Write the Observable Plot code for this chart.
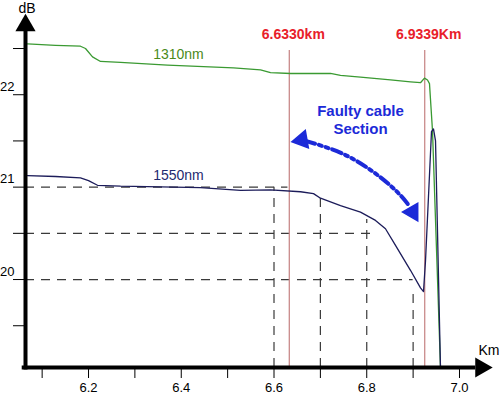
<!DOCTYPE html>
<html>
<head>
<meta charset="utf-8">
<script src="https://cdn.jsdelivr.net/npm/d3@7"></script>
<script src="https://cdn.jsdelivr.net/npm/@observablehq/plot@0.6"></script>
<style>
  html, body { margin: 0; padding: 0; background: #fff; }
  #chart svg { display: block; }
</style>
</head>
<body>
<div id="chart"></div>
<script>
// ---- data ----
const km1310 = [6.0685, 6.1288, 6.1827, 6.1935, 6.2086, 6.2259, 6.269, 6.3703, 6.5127, 6.5709, 6.5925, 6.6356, 6.7218, 6.7434, 6.7865, 6.8512, 6.8943, 6.9159, 6.9245, 6.931, 6.9353, 6.9418, 6.959];
const db1310 = [22.55, 22.535, 22.525, 22.50, 22.41, 22.36, 22.35, 22.32, 22.29, 22.27, 22.24, 22.23, 22.23, 22.21, 22.19, 22.16, 22.14, 22.13, 22.18, 22.16, 22.12, 21.61, 19.05];

const km1550 = [6.0685, 6.1288, 6.1827, 6.2, 6.2194, 6.269, 6.4415, 6.5278, 6.5925, 6.6572, 6.6852, 6.7003, 6.7434, 6.7865, 6.8189, 6.8404, 6.862, 6.8943, 6.9159, 6.9224, 6.9267, 6.9396, 6.9439, 6.9483, 6.959];
const db1550 = [21.125, 21.115, 21.10, 21.07, 21.02, 21.01, 20.995, 20.965, 20.97, 20.95, 20.93, 20.88, 20.80, 20.73, 20.64, 20.55, 20.37, 20.10, 19.91, 19.87, 20.2, 21.60, 21.63, 21.5, 19.05];

const seriesNames = ["1310nm", "1550nm"];
const seriesLabelKm = [6.394, 6.394];
const seriesLabelDb = [22.435, 21.125];

const markerKm = [6.633, 6.925];
const markerLabels = ["6.6330km", "6.9339Km"];

const guideDb = [21, 20.5, 20];          // horizontal dashed guides
const guideDbEndKm = [6.63, 6.81, 6.9];
const guideKm = [6.6, 6.7, 6.8, 6.9];    // vertical dashed guides
const guideKmTopDb = [21, 20.88, 20.65, 19.9];

const faultArrowKm = [6.668, 6.765, 6.851, 6.893];
const faultArrowDb = [21.5, 21.32, 21.017, 20.79];

const xMinorTicks = [6.1, 6.2, 6.3, 6.4, 6.5, 6.6, 6.7, 6.8, 6.9, 7.0];
const xTickLabels = [6.2, 6.4, 6.6, 6.8, 7.0];
const yMinorTicks = [19.5, 20, 20.5, 21, 21.5, 22, 22.5];
const yTickLabels = [20, 21, 22];

// ---- derived tables ----
const xMin = 6.0641, xMax = 7.0604, yMin = 19.048, yMax = 22.825;
const s1310 = km1310.map((k, i) => ({km: k, db: db1310[i]}));
const s1550 = km1550.map((k, i) => ({km: k, db: db1550[i]}));
const labels = seriesNames.map((n, i) => ({name: n, km: seriesLabelKm[i], db: seriesLabelDb[i]}));
const markers = markerKm.map((k, i) => ({km: k, label: markerLabels[i]}));
const hGuides = guideDb.map((d, i) => ({db: d, km2: guideDbEndKm[i]}));
const vGuides = guideKm.map((k, i) => ({km: k, db2: guideKmTopDb[i]}));
const faultArrow = faultArrowKm.map((k, i) => ({km: k, db: faultArrowDb[i]}));

const green = "#3a9a32", navy = "#1c1c5a", red = "#e8202a", blue = "#1c2ad8";
const dash = "9,7";

const chart = Plot.plot({
  width: 500,
  height: 396,
  marginLeft: 25,
  marginRight: 13,
  marginTop: 18,
  marginBottom: 29,
  x: {domain: [xMin, xMax]},
  y: {domain: [yMin, yMax]},
  style: {fontFamily: "'Liberation Sans', Arial, sans-serif", fontSize: "13px", background: "#fff", color: "#000", overflow: "visible"},
  marks: [
    // dashed guides
    Plot.ruleY(hGuides, {y: "db", x1: xMin, x2: "km2", stroke: "#3a3a3a", strokeWidth: 1.2, strokeDasharray: dash}),
    Plot.ruleX(vGuides, {x: "km", y1: yMin, y2: "db2", stroke: "#3a3a3a", strokeWidth: 1.2, strokeDasharray: dash}),
    // marker lines
    Plot.ruleX(markers, {x: "km", y1: yMin, y2: 22.48, stroke: "#c98a8a", strokeWidth: 1.3}),
    Plot.text(markers, {x: "km", y: 22.65, text: "label", dx: 4, fill: red, fontWeight: "bold", fontSize: 14}),
    // traces
    Plot.line(s1310, {x: "km", y: "db", stroke: green, strokeWidth: 1.3}),
    Plot.line(s1550, {x: "km", y: "db", stroke: navy, strokeWidth: 1.3}),
    Plot.text(labels, {x: "km", y: "db", text: "name", fill: (d) => d.name === "1310nm" ? "#4a8a1a" : "#1e2a70", fontSize: 14}),
    // fault annotation
    Plot.text(["Faulty cable\nSection"], {x: 6.7865, y: 21.74, text: (d) => d, fill: blue, fontWeight: "bold", fontSize: 15, lineHeight: 1.2}),
    Plot.line(faultArrow, {x: "km", y: "db", curve: "natural", stroke: blue, strokeWidth: 4, strokeDasharray: "10,4,3,4,3,4"}),
    Plot.dot([{km: 6.66, db: 21.51, a: -100}, {km: 6.899, db: 20.73, a: 150}], {x: "km", y: "db", symbol: "triangle", rotate: "a", r: 6.5, fill: blue, stroke: blue}),
    // axes
    Plot.axisX(xMinorTicks, {tickSize: 11, tickFormat: () => "", label: null, strokeWidth: 1}),
    Plot.axisX(xTickLabels, {tickSize: 0, tickPadding: 15, tickFormat: d3.format(".1f"), label: null, fontSize: 13}),
    Plot.axisY(yMinorTicks, {tickSize: 12, tickFormat: () => "", label: null}),
    Plot.axisY(yTickLabels, {tickSize: 0, tickPadding: 11, dy: -8, tickFormat: d3.format("d"), label: null, fontSize: 13}),
    Plot.ruleY([yMin], {x1: 6.057, x2: 7.035, stroke: "#000", strokeWidth: 4}),
    Plot.ruleX([xMin], {y1: 19.02, y2: 22.72, stroke: "#000", strokeWidth: 4}),
    Plot.dot([{km: 7.0465, db: yMin, a: 90}, {km: xMin, db: 22.75, a: 0}], {x: "km", y: "db", symbol: "triangle", rotate: "a", r: 7.5, fill: "#000"}),
    Plot.text(["dB"], {frameAnchor: "top-left", dx: -7, dy: -15, text: (d) => d, fontSize: 14}),
    Plot.text(["Km"], {x: xMax, y: yMin, dx: 12, dy: -17, text: (d) => d, fontSize: 14, textAnchor: "end"})
  ]
});
document.getElementById("chart").appendChild(chart);
</script>
</body>
</html>
